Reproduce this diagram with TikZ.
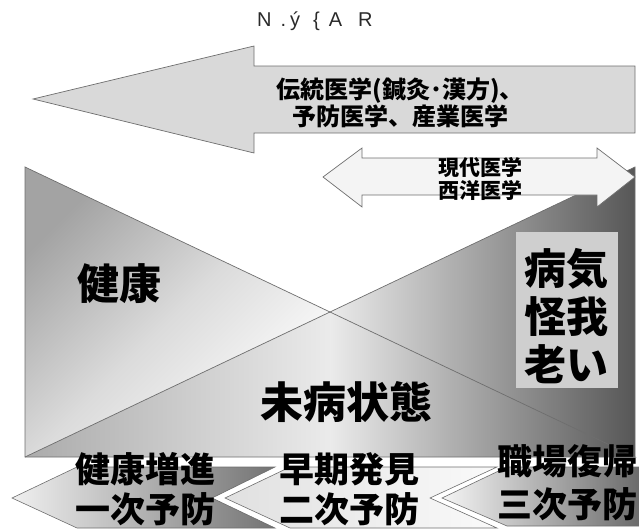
\documentclass[tikz,border=0pt]{standalone}
\usepackage{fontspec}
\setmainfont{Liberation Sans}
\newfontfamily\jp{Noto Sans CJK JP}
\definecolor{lineg}{HTML}{6E6E6E}
\definecolor{arrowg}{HTML}{D9D9D9}
\definecolor{dblg}{HTML}{F4F4F4}
\definecolor{boxg}{HTML}{CFCFCF}
\definecolor{titleg}{HTML}{2A2A2A}
\begin{document}
\begin{tikzpicture}[x=1pt,y=-1pt,
  outl/.style={draw=lineg,line width=0.7pt},
  jpt/.style={text=black,inner sep=0pt,align=center},
]
\useasboundingbox (0,0) rectangle (639,530);
% title
\node[font=\fontsize{20}{24}\selectfont,text=titleg,anchor=west,inner sep=0pt] (title) at (257,21)
  {N\hspace{9pt}.\hspace{4pt}ý\hspace{13pt}\{\hspace{9pt}A\hspace{16pt}R};
% big left arrow
\draw[outl,fill=arrowg] (33,99)--(254,46)--(254,66)--(635,66)--(635,133)--(254,133)--(254,153)--cycle;
\node[jpt,font={\jp\bfseries\fontsize{24}{27}\selectfont}] (trad) at (400,103)
  {伝統医学(鍼灸･漢方)、\\予防医学、産業医学};
% main triangles (visible part of the health triangle, then the illness triangle)
\coordinate (cross) at (330,312);
\shade[left color=black!36,right color=white,middle color=black!14,shading angle=45]
  (25,167)--(cross)--(25,457)--cycle;
\shade[left color=black!33,right color=black!66,middle color=black!8]
  (25,457)--(635,167)--(635,457)--cycle;
\draw[outl] (25,167)--(25,457)--(635,457)--cycle;
\draw[outl] (25,457)--(635,167)--(635,457);
% double arrow
\draw[outl,fill=dblg] (323,177)--(362,148)--(362,158)--(597,158)--(597,148)--(635,177)
  --(597,207)--(597,195)--(362,195)--(362,207)--cycle;
\node[jpt,font={\jp\bfseries\fontsize{21}{23}\selectfont}] (modern) at (480,178.5)
  {現代医学\\西洋医学};
% box
\fill[boxg] (516,232) rectangle (618,388);
\node[jpt,font={\jp\bfseries\fontsize{42}{48}\selectfont}] (sick) at (566,316)
  {病気\\怪我\\老い};
\node[jpt,font={\jp\bfseries\fontsize{42}{48}\selectfont}] (kenko) at (119,284) {健康};
\node[jpt,font={\jp\bfseries\fontsize{43}{48}\selectfont}] (mibyo) at (346,402) {未病状態};
% chevrons
\shade[left color=black!6,right color=black!55,draw=lineg,line width=0.6pt]
  (12,498)--(77,467)--(275,467)--(212,498)--(275,528)--(77,528)--cycle;
\shade[left color=black!12,right color=black!2,draw=lineg,line width=0.6pt]
  (225,498)--(290,467)--(497,467)--(430,498)--(497,528)--(290,528)--cycle;
\shade[left color=black!4,right color=black!58,draw=lineg,line width=0.6pt]
  (442,498)--(507,467)--(639,467)--(639,526)--(507,526)--cycle;
\node[jpt,font={\jp\bfseries\fontsize{35}{40}\selectfont}] (c1) at (145,489) {健康増進\\一次予防};
\node[jpt,font={\jp\bfseries\fontsize{35}{40}\selectfont}] (c2) at (349,489) {早期発見\\二次予防};
\node[jpt,font={\jp\bfseries\fontsize{35}{43}\selectfont}] (c3) at (567,483) {職場復帰\\三次予防};
\end{tikzpicture}
\end{document}
